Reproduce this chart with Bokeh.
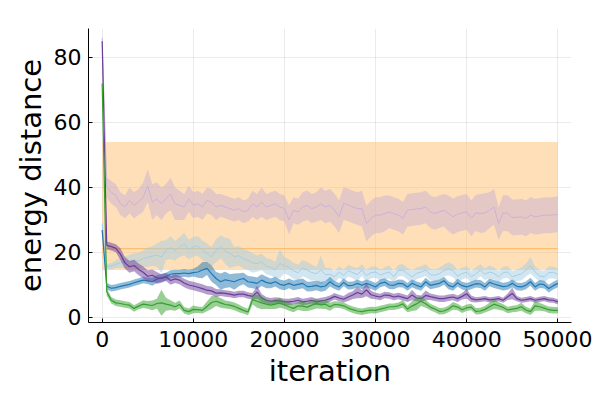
from bokeh.plotting import figure
from bokeh.models import Range1d, FixedTicker
from bokeh.embed import file_html
from bokeh.resources import INLINE

iterations = list(range(0, 50001, 500))

x_ticks = [0, 10000, 20000, 30000, 40000, 50000]
y_ticks = [0, 20, 40, 60, 80]

# reference (orange) band: constant
ref_mean = 21.2
ref_lo = 14.6
ref_hi = 54.0

lp_mean = [86.0, 40.0, 38.5, 37.5, 35.0, 34.0, 36.0, 34.5, 35.5, 37.0,
           40.5, 35.5, 36.5, 35.0, 36.5, 38.0, 35.0, 34.5, 34.0, 36.5,
           34.5, 35.0, 34.0, 36.0, 35.5, 34.0, 34.5, 34.0, 33.5, 33.0,
           33.5, 32.5, 33.0, 35.0, 34.0, 35.5, 34.0, 34.5, 35.0, 34.0,
           33.5, 30.0, 33.0, 32.5, 34.0, 34.5, 33.5, 34.0, 35.0, 34.0,
           34.5, 33.0, 31.0, 35.1, 34.6, 34.0, 33.5, 33.5, 28.9, 30.5,
           31.5, 31.5, 32.0, 32.5, 32.0, 31.5, 30.5, 33.0, 33.2, 33.4,
           33.5, 34.0, 32.5, 32.0, 32.5, 33.0, 32.0, 31.0, 31.8, 32.2,
           32.5, 30.5, 32.2, 32.0, 32.2, 33.0, 34.0, 28.9, 32.2, 32.0,
           30.8, 30.8, 31.0, 30.5, 31.5, 31.0, 31.2, 31.5, 31.4, 31.6,
           31.7]
lp_err = [0.5, 3.0, 3.5, 3.5, 3.5, 3.5, 4.0, 4.0, 4.0, 4.5,
          5.0, 5.5, 5.0, 5.0, 4.5, 5.0, 5.0, 4.5, 4.0, 4.0,
          4.0, 4.0, 4.0, 4.0, 4.0, 4.0, 3.5, 3.5, 3.5, 3.5,
          3.5, 3.5, 3.5, 4.0, 4.0, 4.5, 4.0, 4.0, 4.0, 4.0,
          4.0, 4.5, 4.0, 4.0, 4.5, 4.5, 4.5, 4.5, 5.0, 5.0,
          5.0, 5.0, 5.0, 5.0, 5.0, 5.0, 5.0, 5.5, 5.5, 5.5,
          5.5, 5.5, 5.5, 5.0, 5.0, 5.0, 5.0, 5.0, 5.0, 5.0,
          5.0, 5.0, 5.0, 5.0, 5.0, 5.0, 5.5, 5.5, 5.5, 5.5,
          5.5, 5.5, 5.5, 6.0, 6.0, 5.5, 5.5, 5.0, 5.5, 5.5,
          5.5, 5.5, 5.5, 5.5, 5.5, 5.5, 5.5, 5.5, 5.5, 5.5,
          5.5]

lb_mean = [28.9, 15.6, 15.8, 16.4, 16.8, 17.0, 17.3, 17.6, 17.4, 18.1,
           18.5, 18.9, 19.2, 18.6, 20.7, 21.5, 20.5, 21.7, 22.6, 20.9,
           21.8, 22.0, 20.7, 19.8, 18.7, 20.6, 21.7, 20.5, 19.7, 18.7,
           19.0, 18.1, 17.6, 16.8, 16.6, 17.1, 15.8, 15.4, 14.6, 16.6,
           16.0, 15.4, 14.3, 13.8, 15.2, 14.6, 13.8, 13.5, 14.6, 13.2,
           13.3, 12.5, 14.0, 13.0, 14.4, 13.8, 13.2, 14.6, 12.9, 13.8,
           14.0, 13.0, 13.6, 14.0, 12.5, 14.4, 14.6, 13.5, 12.5, 13.6,
           14.0, 14.6, 13.2, 13.0, 13.5, 14.4, 15.0, 14.4, 12.7, 13.5,
           14.0, 12.5, 13.4, 14.6, 13.3, 14.0, 13.6, 12.5, 13.8, 14.0,
           12.5, 13.0, 13.4, 14.6, 16.0, 14.0, 12.8, 12.5, 13.8, 13.9,
           13.3]
lb_err = [0.5, 0.8, 1.0, 1.2, 1.5, 1.8, 2.0, 2.2, 2.5, 2.5,
          3.0, 3.0, 3.5, 5.0, 3.0, 3.5, 3.0, 3.0, 3.5, 3.0,
          3.0, 3.0, 3.0, 3.0, 3.0, 3.5, 3.5, 4.0, 4.5, 3.0,
          3.0, 3.0, 3.0, 3.0, 2.5, 2.5, 2.5, 2.5, 2.5, 4.5,
          2.5, 2.5, 2.5, 2.5, 2.5, 2.5, 2.5, 2.0, 4.5, 2.0,
          2.0, 1.8, 1.8, 1.8, 1.8, 1.8, 2.0, 1.8, 1.8, 1.8,
          1.8, 1.8, 1.8, 2.0, 1.8, 1.8, 1.8, 1.8, 2.0, 1.8,
          1.8, 1.8, 1.8, 1.8, 1.8, 1.8, 2.0, 2.0, 1.8, 1.8,
          1.8, 1.8, 2.0, 1.8, 1.8, 2.0, 1.8, 1.8, 1.8, 1.8,
          1.8, 1.8, 2.0, 2.0, 2.5, 1.8, 1.8, 1.8, 1.8, 1.8,
          1.8]

b_mean = [26.9, 9.6, 9.0, 9.2, 9.6, 9.9, 10.2, 10.7, 11.1, 11.5,
          11.3, 11.0, 11.8, 12.2, 12.6, 13.3, 13.5, 13.5, 13.7, 13.5,
          13.8, 14.0, 14.6, 15.1, 13.5, 12.0, 11.0, 11.6, 11.3, 11.0,
          11.6, 12.0, 11.0, 10.8, 10.5, 11.5, 10.8, 10.5, 11.0, 10.2,
          9.9, 10.5, 9.9, 10.2, 10.5, 9.5, 9.6, 9.9, 9.4, 9.7,
          11.0, 10.0, 9.4, 10.8, 9.8, 9.9, 10.5, 9.9, 10.5, 10.0,
          9.4, 10.5, 10.9, 10.0, 9.9, 10.5, 10.4, 9.4, 10.5, 9.9,
          9.4, 11.0, 9.9, 10.2, 10.5, 11.3, 9.9, 9.4, 10.7, 9.8,
          9.4, 9.9, 10.4, 10.3, 9.4, 10.8, 10.3, 9.9, 9.5, 9.7,
          10.5, 9.6, 9.4, 9.9, 11.0, 9.4, 10.3, 10.1, 8.9, 9.8,
          10.5]
b_err = [0.5, 1.0, 1.0, 1.0, 1.0, 1.0, 1.0, 1.0, 1.0, 1.0,
         1.0, 1.2, 1.2, 1.2, 1.2, 1.2, 1.2, 1.2, 1.2, 1.2,
         1.2, 1.8, 2.5, 2.0, 2.5, 2.0, 2.5, 2.5, 2.0, 2.5,
         2.0, 1.8, 1.8, 1.8, 1.8, 1.8, 1.8, 1.5, 1.5, 1.5,
         1.5, 1.5, 1.5, 1.5, 1.5, 1.5, 1.5, 1.5, 1.5, 1.5,
         1.5, 1.2, 1.2, 1.2, 1.2, 1.2, 1.2, 1.2, 1.2, 1.2,
         1.2, 1.2, 1.2, 1.2, 1.2, 1.2, 1.2, 1.2, 1.2, 1.2,
         1.2, 1.2, 1.2, 1.2, 1.2, 1.2, 1.2, 1.2, 1.2, 1.2,
         1.2, 1.2, 1.2, 1.2, 1.2, 1.2, 1.2, 1.2, 1.2, 1.2,
         1.2, 1.2, 1.2, 1.2, 1.2, 1.2, 1.2, 1.2, 1.2, 1.2,
         1.2]

p_mean = [85.0, 22.2, 21.8, 21.3, 19.5, 16.8, 15.6, 16.0, 14.8, 13.9,
          12.7, 13.0, 12.2, 12.0, 12.5, 11.4, 11.9, 11.5, 10.6, 10.0,
          9.7, 9.3, 8.9, 8.4, 8.2, 7.5, 7.6, 7.4, 7.2, 6.9,
          7.2, 7.2, 6.8, 6.5, 7.8, 6.0, 5.3, 5.0, 5.2, 5.1,
          4.8, 4.8, 5.0, 5.3, 4.8, 5.0, 5.3, 4.8, 5.1, 5.3,
          5.8, 6.5, 6.0, 5.6, 6.3, 6.9, 7.7, 7.2, 8.5, 7.0,
          6.6, 6.3, 6.9, 6.8, 6.3, 6.6, 6.2, 5.8, 6.9, 6.0,
          5.8, 6.8, 6.4, 6.1, 5.8, 5.8, 6.1, 6.3, 5.8, 6.5,
          7.3, 5.8, 5.4, 5.6, 5.8, 5.4, 5.6, 5.8, 5.3, 6.4,
          7.4, 5.8, 5.3, 5.5, 5.8, 5.3, 5.6, 5.8, 5.4, 5.3,
          4.8]
p_err = [0.5, 1.2, 1.2, 1.2, 1.8, 1.8, 1.8, 1.8, 1.8, 1.8,
         1.8, 1.8, 1.8, 1.3, 1.3, 1.3, 1.3, 1.3, 1.3, 1.3,
         1.3, 1.3, 1.3, 1.3, 1.3, 1.3, 1.0, 1.0, 1.0, 1.0,
         1.0, 1.0, 1.0, 1.0, 2.0, 1.2, 1.0, 1.0, 1.0, 1.0,
         1.0, 1.0, 1.0, 1.0, 1.0, 1.0, 1.0, 1.0, 1.0, 1.0,
         1.0, 1.0, 1.0, 1.0, 1.2, 1.2, 1.8, 1.2, 2.0, 1.2,
         1.0, 1.0, 1.0, 1.0, 1.0, 1.0, 1.0, 1.0, 1.6, 1.0,
         1.0, 1.5, 1.0, 1.0, 1.0, 1.0, 1.0, 1.0, 1.0, 1.0,
         1.5, 1.0, 0.8, 0.8, 0.8, 0.8, 0.8, 0.8, 0.8, 1.0,
         1.8, 0.8, 0.8, 0.8, 0.8, 0.8, 0.8, 0.8, 0.8, 0.8,
         0.8]

g_mean = [72.0, 7.9, 5.3, 4.5, 4.3, 4.0, 3.8, 2.8, 3.5, 4.1,
          3.9, 3.7, 4.3, 4.5, 4.1, 3.8, 3.3, 4.0, 2.2, 1.8,
          2.5, 2.4, 2.2, 3.4, 4.6, 5.0, 4.5, 4.0, 3.8, 3.4,
          2.8, 2.2, 1.7, 5.5, 5.0, 4.5, 4.1, 3.8, 4.1, 4.5,
          3.9, 3.3, 2.8, 3.6, 3.5, 3.2, 3.8, 4.3, 3.9, 4.1,
          3.3, 4.0, 3.9, 3.6, 2.9, 2.4, 2.0, 1.8, 2.1, 2.3,
          2.2, 2.6, 2.9, 3.3, 3.3, 3.6, 4.2, 2.6, 3.5, 4.2,
          5.0, 4.2, 3.2, 2.6, 1.9, 2.0, 2.6, 3.6, 3.2, 2.4,
          3.0, 3.2, 1.9, 2.0, 2.5, 3.3, 4.1, 3.6, 3.1, 2.3,
          2.6, 2.8, 3.3, 2.3, 1.8, 3.6, 3.3, 2.9, 2.4, 2.2,
          2.2]
g_err = [0.5, 1.2, 1.0, 1.0, 1.0, 1.0, 1.0, 1.0, 1.0, 1.2,
         1.2, 1.5, 1.5, 4.0, 2.0, 1.5, 1.2, 1.2, 1.0, 1.0,
         1.2, 1.0, 1.0, 1.5, 2.0, 1.5, 1.5, 1.2, 1.2, 1.2,
         1.2, 1.0, 1.0, 1.5, 2.0, 2.0, 1.5, 1.2, 1.5, 1.5,
         1.2, 1.2, 1.2, 1.2, 1.5, 1.2, 1.5, 1.5, 1.2, 1.5,
         1.2, 1.0, 1.0, 1.0, 1.0, 1.0, 1.0, 1.0, 1.0, 1.0,
         1.0, 1.0, 1.0, 1.0, 1.0, 1.0, 1.2, 1.0, 1.5, 2.0,
         1.5, 1.2, 1.0, 1.0, 1.0, 1.0, 1.0, 1.2, 1.0, 1.0,
         1.0, 1.0, 1.0, 1.0, 1.0, 1.2, 1.5, 1.2, 1.0, 1.0,
         1.0, 1.0, 1.2, 1.0, 1.0, 1.5, 1.2, 1.0, 1.0, 1.0,
         1.0]

series = [
    (lp_mean, lp_err, "#cab2d6", 1.0),
    (lb_mean, lb_err, "#a6cee3", 1.0),
    (b_mean, b_err, "#1f78b4", 1.2),
    (p_mean, p_err, "#6a3d9a", 1.2),
    (g_mean, g_err, "#33a02c", 1.2),
]

p = figure(frame_width=483, frame_height=294,
           min_border_left=88, min_border_top=28, min_border_right=21, min_border_bottom=60,
           x_range=Range1d(-1500, 51500), y_range=Range1d(-1.54, 88.92),
           output_backend="svg", toolbar_location=None)
p.outline_line_color = None
p.background_fill_color = "white"
p.border_fill_color = "white"

n = len(iterations)
p.varea(x=iterations, y1=[ref_lo] * n, y2=[ref_hi] * n,
        fill_color="#fdbf6f", fill_alpha=0.5)
p.line(iterations, [ref_mean] * n, line_color="#fdbf6f", line_width=1.2)

for mean, err, color, lw in series:
    lo = [m - e for m, e in zip(mean, err)]
    hi = [m + e for m, e in zip(mean, err)]
    p.varea(x=iterations, y1=lo, y2=hi, fill_color=color, fill_alpha=0.5)
    p.line(iterations, mean, line_color=color, line_width=lw)

p.xaxis.ticker = FixedTicker(ticks=x_ticks)
p.yaxis.ticker = FixedTicker(ticks=y_ticks)
p.xaxis.major_label_overrides = {t: str(t) for t in x_ticks}
p.yaxis.major_label_overrides = {t: str(t) for t in y_ticks}

for ax in (p.xaxis, p.yaxis):
    ax.major_tick_in = 4
    ax.major_tick_out = 0
    ax.minor_tick_in = 0
    ax.minor_tick_out = 0
    ax.axis_line_color = "black"
    ax.major_tick_line_color = "black"
    ax.major_label_text_font = "DejaVu Sans"
    ax.major_label_text_font_size = "22px"
    ax.major_label_text_color = "black"
    ax.axis_label_text_font = "DejaVu Sans"
    ax.axis_label_text_font_size = "29px"
    ax.axis_label_text_font_style = "normal"
    ax.axis_label_text_color = "black"

p.xaxis.axis_label = "iteration"
p.yaxis.axis_label = "energy distance"
p.xaxis.major_label_standoff = 8
p.yaxis.major_label_standoff = 7
p.xaxis.axis_label_standoff = 4
p.yaxis.axis_label_standoff = 3

p.grid.grid_line_color = "black"
p.grid.grid_line_alpha = 0.1
p.grid.grid_line_width = 0.8

open("out.html", "w").write(file_html(p, INLINE))
